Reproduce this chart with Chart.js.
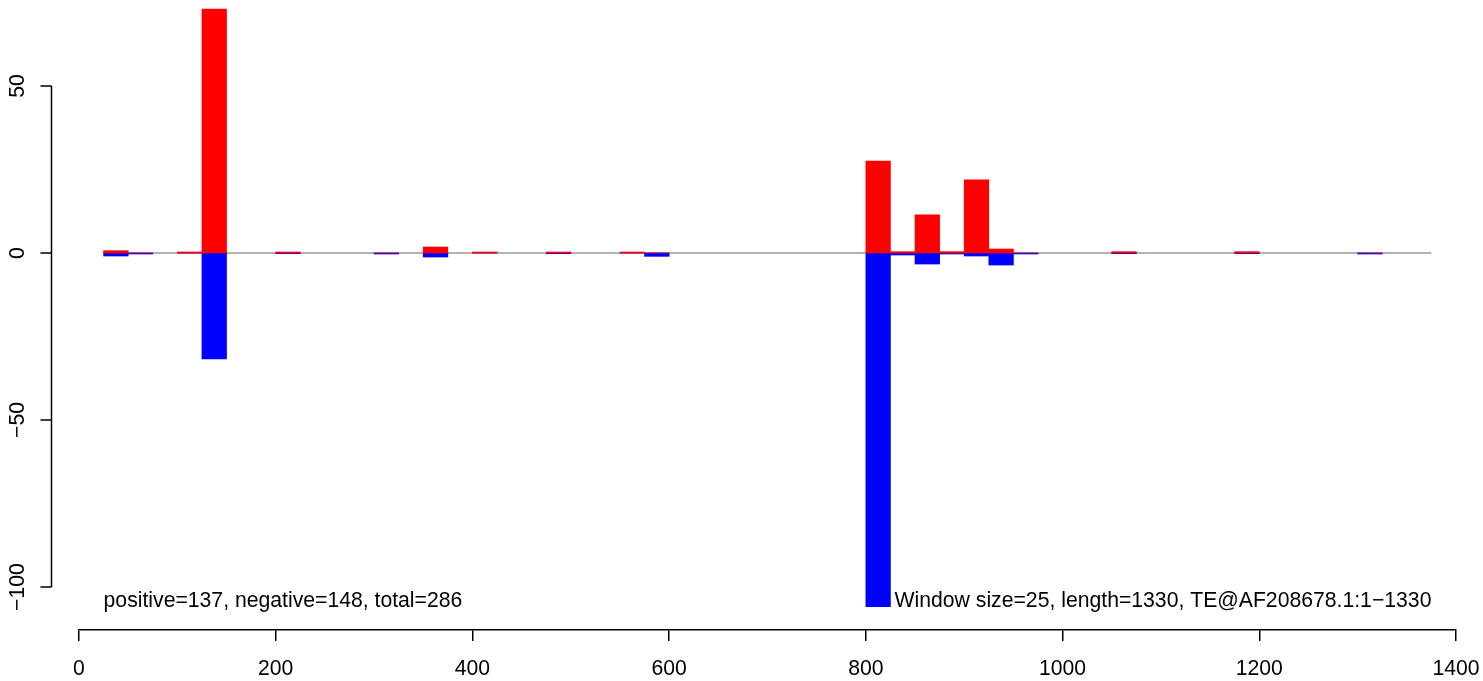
<!DOCTYPE html>
<html>
<head>
<meta charset="utf-8">
<script src="https://cdn.jsdelivr.net/npm/chart.js@4"></script>
<style>
  html, body { margin: 0; padding: 0; background: #fff; }
  #wrap { width: 1483px; height: 681px; position: relative; }
</style>
</head>
<body>
<div id="wrap"><canvas id="coverageChart"></canvas></div>
<script>
// window starts (size 25) that carry any signal; other windows are empty
const windowStarts = [25, 50, 100, 125, 200, 300, 350, 400, 475, 550, 575,
                      800, 825, 850, 875, 900, 925, 950, 1050, 1175, 1300];
const positiveVals = [0.7, 0, 0.3, 73.0, 0.3, 0, 1.8, 0.3, 0.3, 0.3, 0,
                      27.5, 0.4, 11.4, 0.4, 21.9, 1.2, 0, 0.4, 0.4, 0];
const negativeVals = [-0.9, -0.3, 0, -31.7, -0.2, -0.3, -1.2, 0, -0.2, 0, -1.0,
                      -105.9, -0.6, -3.3, -0.3, -0.9, -3.6, -0.3, -0.2, -0.2, -0.3];
const windowSize = 25;
const baselineRange = [25, 1375];
const xTicks = [0, 200, 400, 600, 800, 1000, 1200, 1400];
const yTicks = [-100, -50, 0, 50];
const leftNote = 'positive=137, negative=148, total=286';
const rightNote = 'Window size=25, length=1330, TE@AF208678.1:1\u22121330';

const FONT = "'Liberation Sans', Arial, sans-serif";

const posData = windowStarts.map((s, i) => ({ x: s + windowSize / 2, y: positiveVals[i] }));
const negData = windowStarts.map((s, i) => ({ x: s + windowSize / 2, y: negativeVals[i] }));

// R style left axis + the two notes at the bottom
const rAxisPlugin = {
    id: 'rAxis',
    afterDraw(chart) {
        const ctx = chart.ctx;
        const xs = chart.scales.x;
        const ys = chart.scales.y;
        const axisX = 51.5;
        ctx.save();
        ctx.strokeStyle = '#000';
        ctx.lineWidth = 1.5;
        ctx.beginPath();
        ctx.moveTo(axisX, ys.getPixelForValue(yTicks[0]));
        ctx.lineTo(axisX, ys.getPixelForValue(yTicks[yTicks.length - 1]));
        yTicks.forEach(v => {
            const py = ys.getPixelForValue(v);
            ctx.moveTo(axisX, py);
            ctx.lineTo(axisX - 11, py);
        });
        ctx.stroke();

        ctx.fillStyle = '#000';
        ctx.font = '21.2px ' + FONT;
        ctx.textAlign = 'center';
        ctx.textBaseline = 'alphabetic';
        yTicks.forEach(v => {
            const py = ys.getPixelForValue(v);
            ctx.save();
            ctx.translate(24, py);
            ctx.rotate(-Math.PI / 2);
            ctx.fillText(String(v).replace('-', '\u2212'), 0, 0);
            ctx.restore();
        });

        const noteY = ys.getPixelForValue(-106);
        ctx.textAlign = 'left';
        ctx.fillText(leftNote, xs.getPixelForValue(baselineRange[0]), noteY);
        ctx.textAlign = 'right';
        ctx.fillText(rightNote, xs.getPixelForValue(baselineRange[1]), noteY);
        ctx.restore();
    }
};

new Chart(document.getElementById('coverageChart').getContext('2d'), {
    type: 'bar',
    data: {
        datasets: [
            {
                label: 'positive',
                data: posData,
                backgroundColor: '#ff0000',
                borderWidth: 0,
                grouped: false,
                barPercentage: 1,
                categoryPercentage: 1,
                order: 1
            },
            {
                label: 'negative',
                data: negData,
                backgroundColor: '#0000ff',
                borderWidth: 0,
                grouped: false,
                barPercentage: 1,
                categoryPercentage: 1,
                order: 1
            },
            {
                type: 'line',
                label: 'zero',
                data: baselineRange.map(x => ({ x, y: 0 })),
                borderColor: '#999999',
                borderWidth: 1.5,
                pointRadius: 0,
                order: 2
            }
        ]
    },
    options: {
        responsive: true,
        maintainAspectRatio: false,
        animation: false,
        layout: { padding: { left: 79, right: 27, top: 0, bottom: 0 } },
        plugins: {
            legend: { display: false },
            tooltip: { enabled: false }
        },
        scales: {
            x: {
                type: 'linear',
                position: 'bottom',
                offset: false,
                min: 0,
                max: 1400,
                afterBuildTicks: scale => { scale.ticks = xTicks.map(v => ({ value: v })); },
                afterFit: scale => {
                    scale.height = 51;
                    scale.paddingLeft = 0;
                    scale.paddingRight = 0;
                },
                border: { display: true, color: '#000', width: 1.5 },
                grid: {
                    display: true,
                    offset: false,
                    drawOnChartArea: false,
                    drawTicks: true,
                    tickLength: 11,
                    color: '#000',
                    lineWidth: 1.5
                },
                ticks: {
                    autoSkip: false,
                    maxRotation: 0,
                    padding: 15,
                    color: '#000',
                    font: { family: FONT, size: 21.2 },
                    callback: v => String(v)
                }
            },
            y: {
                display: false,
                min: -112.87,
                max: 75.75
            }
        }
    },
    plugins: [rAxisPlugin]
});
</script>
</body>
</html>
